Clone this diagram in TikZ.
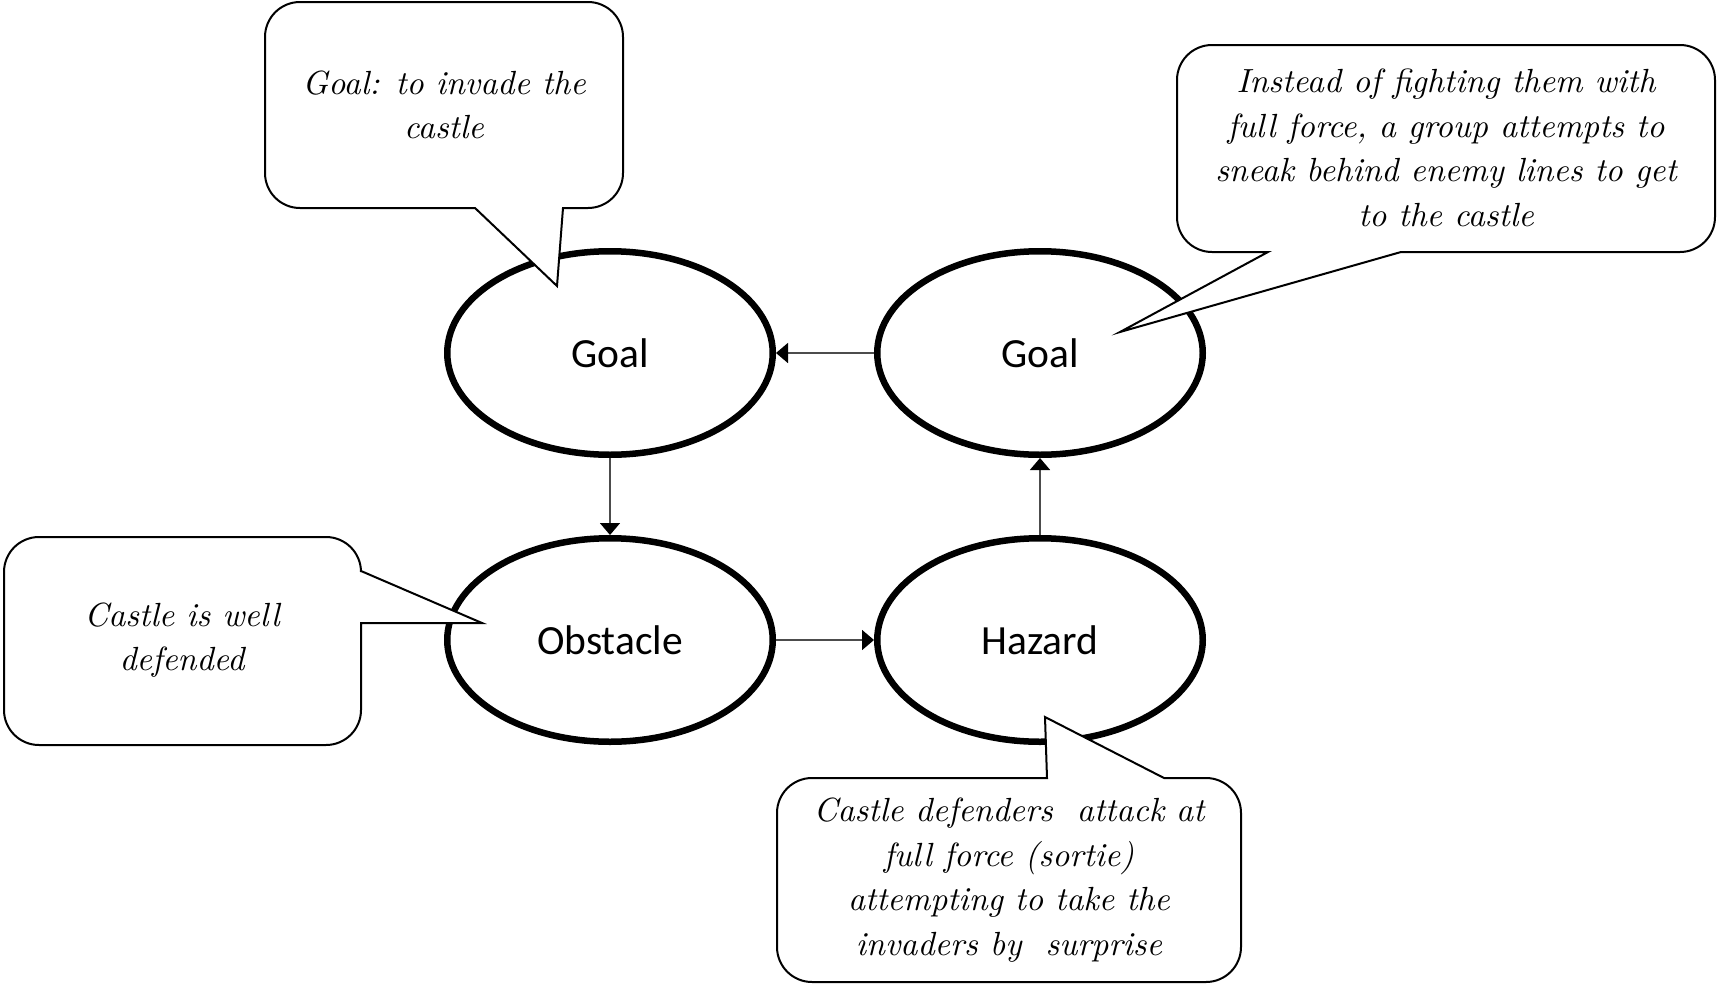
\documentclass[tikz,border=0pt]{standalone}
\usepackage{fontspec}
\newfontfamily\stagefont{Carlito}
\usetikzlibrary{shapes.geometric,arrows.meta}
\begin{document}
\begin{tikzpicture}[x=1pt,y=-1pt,
  stage/.style={ellipse, draw, line width=6.5pt, fill=white,
    minimum width=325.5pt, minimum height=203.5pt, inner sep=0pt,
    font=\stagefont\fontsize{41.5}{48}\selectfont},
  link/.style={draw=black!70, line width=1.6pt,
    -{Triangle[length=12pt,width=20pt,color=black]}},
  bubble/.style={draw, line width=2pt, fill=white, line join=miter},
  note/.style={align=center, inner sep=0pt, scale=3.35, transform shape,
    font=\itshape\fontsize{10}{13.28}\selectfont}]
\useasboundingbox (0,0) rectangle (1719,985);

% story stages
\node[stage] (goalA)  at (610,353)  {Goal};
\node[stage] (goalB)  at (1040,353) {Goal};
\node[stage] (obst)   at (610,640)  {Obstacle};
\node[stage] (hazard) at (1040,640) {Hazard};

% transitions between stages
\draw[link] (goalA.south) -- (obst.north);
\draw[link] (obst.east) -- (hazard.west);
\draw[link] (hazard.north) -- (goalB.south);
\draw[link] (goalB.west) -- (goalA.east);

% speech bubbles (r = 35)
% upper left, pointer on the bottom edge
\draw[bubble] (300,2) -- (588,2) arc[start angle=270,end angle=360,radius=35]
  -- (623,173) arc[start angle=0,end angle=90,radius=35]
  -- (563,208) -- (557,286) -- (475,208)
  -- (300,208) arc[start angle=90,end angle=180,radius=35]
  -- (265,37) arc[start angle=180,end angle=270,radius=35] -- cycle;
\node[note] (noteGoalA) at (444,105) {Goal: to invade the\\castle};

% left, pointer on the right edge
\draw[bubble] (39,537) -- (326,537) arc[start angle=270,end angle=360,radius=35]
  -- (361,571) -- (482,623) -- (361,623)
  -- (361,710) arc[start angle=0,end angle=90,radius=35]
  -- (39,745) arc[start angle=90,end angle=180,radius=35]
  -- (4,572) arc[start angle=180,end angle=270,radius=35] -- cycle;
\node[note] (noteObst) at (182,640) {Castle is well\\defended};

% bottom, pointer on the top edge
\draw[bubble] (812,778) -- (1047,778) -- (1045,717) -- (1164,778)
  -- (1206,778) arc[start angle=270,end angle=360,radius=35]
  -- (1241,947) arc[start angle=0,end angle=90,radius=35]
  -- (812,982) arc[start angle=90,end angle=180,radius=35]
  -- (777,813) arc[start angle=180,end angle=270,radius=35] -- cycle;
\node[note] (noteHazard) at (1009,880)
  {Castle defenders\ \ attack at\\full force (sortie)\\attempting to take the\\invaders by\ \ surprise};

% upper right, pointer on the bottom edge
\draw[bubble] (1212,45) -- (1680,45) arc[start angle=270,end angle=360,radius=35]
  -- (1715,217) arc[start angle=0,end angle=90,radius=35]
  -- (1401,252) -- (1120,332) -- (1268,252)
  -- (1212,252) arc[start angle=90,end angle=180,radius=35]
  -- (1177,80) arc[start angle=180,end angle=270,radius=35] -- cycle;
\node[note] (noteGoalB) at (1446,148)
  {Instead of fighting them with\\full force, a group attempts to\\sneak behind enemy lines to get\\to the castle};
\end{tikzpicture}
\end{document}
